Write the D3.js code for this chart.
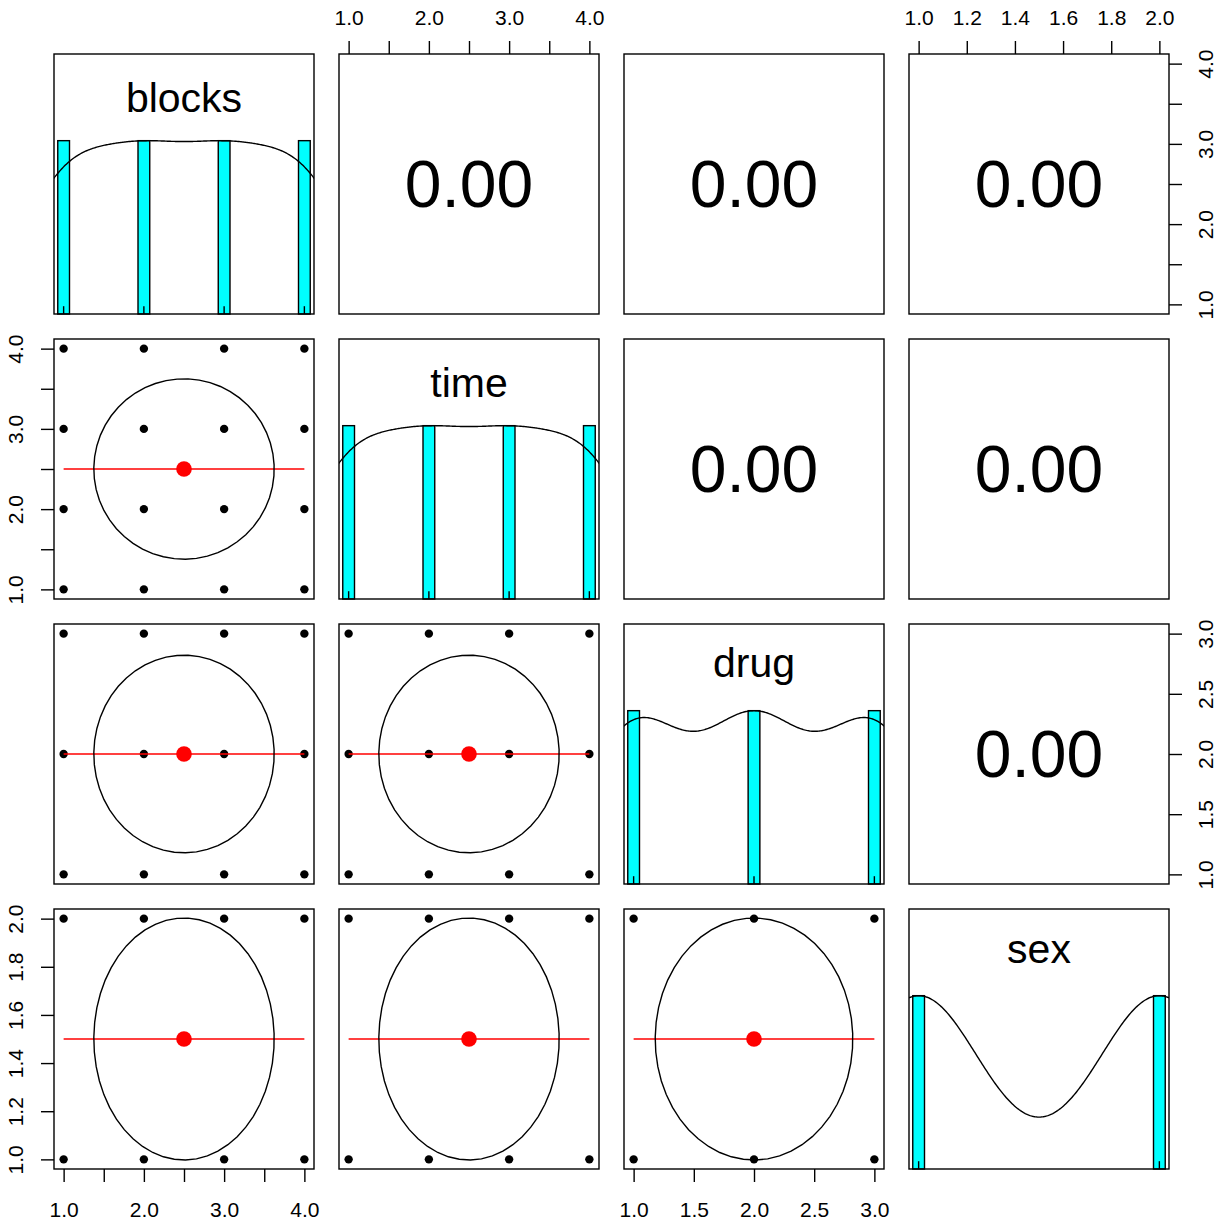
<!DOCTYPE html>
<html><head><meta charset="utf-8">
<script src="https://cdn.jsdelivr.net/npm/d3@7"></script>
<style>html,body{margin:0;padding:0;background:#fff}</style>
</head><body>
<svg id="chart" width="1223" height="1223" xmlns="http://www.w3.org/2000/svg"></svg>
<script>
// ---------------- data ----------------
const variableNames = ["blocks", "time", "drug", "sex"];
const blocksLevels = [1, 2, 3, 4];
const blocksCounts = [24, 24, 24, 24];
const timeLevels = [1, 2, 3, 4];
const timeCounts = [24, 24, 24, 24];
const drugLevels = [1, 2, 3];
const drugCounts = [32, 32, 32];
const sexLevels = [1, 2];
const sexCounts = [48, 48];
// upper triangle, row-major: (blocks,time) (blocks,drug) (blocks,sex) (time,drug) (time,sex) (drug,sex)
const correlations = [0.00, 0.00, 0.00, 0.00, 0.00, 0.00];
const blocksTicks = [1, 1.5, 2, 2.5, 3, 3.5, 4];
const blocksTickLabels = ["1.0", "", "2.0", "", "3.0", "", "4.0"];
const timeTicks = [1, 1.5, 2, 2.5, 3, 3.5, 4];
const timeTickLabels = ["1.0", "", "2.0", "", "3.0", "", "4.0"];
const drugTicks = [1, 1.5, 2, 2.5, 3];
const drugTickLabels = ["1.0", "1.5", "2.0", "2.5", "3.0"];
const sexTicks = [1, 1.2, 1.4, 1.6, 1.8, 2];
const sexTickLabels = ["1.0", "1.2", "1.4", "1.6", "1.8", "2.0"];

// ---------------- layout ----------------
const P0 = 54, PS = 260, STEP = 285;
const FONT = "'Liberation Sans', Arial, Helvetica, sans-serif";
const LW = 1.4;

const levelArrays = [blocksLevels, timeLevels, drugLevels, sexLevels];
const countArrays = [blocksCounts, timeCounts, drugCounts, sexCounts];
const tickArrays = [blocksTicks, timeTicks, drugTicks, sexTicks];
const tickLabelArrays = [blocksTickLabels, timeTickLabels, drugTickLabels, sexTickLabels];

const vars = variableNames.map((name, k) => {
  const levels = levelArrays[k], counts = countArrays[k];
  const values = [];
  levels.forEach((l, m) => { for (let c = 0; c < counts[m]; c++) values.push(l); });
  const n = values.length;
  const mean = d3.mean(values);
  const sd = d3.deviation(values);
  const q1 = d3.quantile(values, 0.25), q3 = d3.quantile(values, 0.75);
  const bw = 1.06 * Math.min(sd, (q3 - q1) / 1.34) * Math.pow(n, -0.2) * 1.2;
  const [mn, mx] = d3.extent(values);
  const r = mx - mn;
  return {name, levels, counts, values, n, mean, sd, bw, min: mn, max: mx,
    domain: [mn - 0.04 * r, mx + 0.04 * r], ticks: tickArrays[k], tickLabels: tickLabelArrays[k]};
});

function corrIndex(i, j) { // i<j
  const nV = vars.length; let idx = 0;
  for (let a = 0; a < nV; a++) for (let b = a + 1; b < nV; b++) { if (a === i && b === j) return idx; idx++; }
  return -1;
}

const svg = d3.select("#chart");
svg.append("rect").attr("width", 1223).attr("height", 1223).attr("fill", "#fff");
const defs = svg.append("defs");
const nV = vars.length;

for (let i = 0; i < nV; i++) {
  for (let j = 0; j < nV; j++) {
    const left = P0 + j * STEP, top = P0 + i * STEP;
    const g = svg.append("g").attr("transform", `translate(${left},${top})`);
    const vx = vars[j], vy = vars[i];
    const x = d3.scaleLinear().domain(vx.domain).range([0, PS]);
    const y = d3.scaleLinear().domain(vy.domain).range([PS, 0]);
    const clipId = `clip-${i}-${j}`;
    defs.append("clipPath").attr("id", clipId).append("rect").attr("width", PS).attr("height", PS);

    if (i === j) {
      const yh = d3.scaleLinear().domain([0, 1.5]).range([PS, 0]);
      const maxC = d3.max(vx.counts);
      const diffs = d3.pairs(vx.levels).map(([a, b]) => b - a);
      const ib = d3.min(diffs) * (vx.levels.length - 1) / 41;
      g.selectAll("rect.bar").data(vx.levels.map((l, m) => ({l, c: vx.counts[m]})))
        .join("rect").attr("class", "bar")
        .attr("x", d => x(d.l - ib)).attr("width", d => x(d.l + ib) - x(d.l - ib))
        .attr("y", d => yh(d.c / maxC)).attr("height", d => PS - yh(d.c / maxC))
        .attr("fill", "#00FFFF").attr("stroke", "#000").attr("stroke-width", LW);
      // density (gaussian kde, bw.nrd * 1.2)
      const lo = vx.min - 3 * vx.bw, hi = vx.max + 3 * vx.bw;
      const grid = d3.range(512).map(k => lo + (hi - lo) * k / 511);
      const kde = grid.map(t => {
        let s = 0;
        vx.levels.forEach((l, m) => { const z = (t - l) / vx.bw; s += vx.counts[m] * Math.exp(-0.5 * z * z); });
        return [t, s];
      });
      const dmax = d3.max(kde, d => d[1]);
      g.append("path").attr("clip-path", `url(#${clipId})`)
        .attr("d", d3.line().x(d => x(d[0])).y(d => yh(d[1] / dmax))(kde))
        .attr("fill", "none").attr("stroke", "#000").attr("stroke-width", LW);
      // rug
      g.selectAll("line.rug").data(vx.levels).join("line").attr("class", "rug")
        .attr("x1", d => x(d)).attr("x2", d => x(d)).attr("y1", PS).attr("y2", PS - 0.03 * PS)
        .attr("stroke", "#000").attr("stroke-width", LW);
      // label
      const fs = 41;
      const asc = /[bdfhklti0-9A-Z]/.test(vx.name) ? 0.716 * fs : 0.519 * fs;
      const desc = /[gjpqy]/.test(vx.name) ? 0.21 * fs : 0;
      g.append("text").attr("x", PS / 2).attr("y", 43 + (asc - desc) / 2)
        .attr("text-anchor", "middle").attr("font-family", FONT).attr("font-size", fs)
        .attr("fill", "#000").text(vx.name);
    } else if (i > j) {
      // scatter points: every observed combination
      const pts = [];
      vx.levels.forEach(a => vy.levels.forEach(b => pts.push([a, b])));
      g.selectAll("circle.pt").data(pts).join("circle").attr("class", "pt")
        .attr("cx", d => x(d[0])).attr("cy", d => y(d[1])).attr("r", 4.2).attr("fill", "#000");
      const r = correlations[corrIndex(j, i)];
      // smoother / fit (slope from correlation)
      const slope = r * vy.sd / vx.sd;
      const fit = t => vy.mean + slope * (t - vx.mean);
      g.append("line").attr("x1", x(vx.min)).attr("x2", x(vx.max))
        .attr("y1", y(fit(vx.min))).attr("y2", y(fit(vx.max)))
        .attr("stroke", "#FF0000").attr("stroke-width", LW);
      // correlation ellipse
      const seg = 51;
      const theta = (Math.abs(r) > 0 ? Math.sign(r) : 1) / Math.SQRT2;
      const a1 = Math.sqrt(1 + r), a2 = Math.sqrt(1 - r);
      const ell = d3.range(seg + 1).map(k => {
        const ang = k * 2 * Math.PI / seg;
        const c = Math.cos(ang) * a1, s = Math.sin(ang) * a2;
        const ex = c * theta + s * (-theta);
        const ey = c * theta + s * theta;
        return [ex * vx.sd + vx.mean, ey * vy.sd + vy.mean];
      });
      g.append("path").attr("d", d3.line().x(d => x(d[0])).y(d => y(d[1]))(ell))
        .attr("fill", "none").attr("stroke", "#000").attr("stroke-width", LW);
      g.append("circle").attr("cx", x(vx.mean)).attr("cy", y(vy.mean)).attr("r", 7.8).attr("fill", "#FF0000");
    } else {
      const r = correlations[corrIndex(i, j)];
      const fs = 66;
      g.append("text").attr("x", PS / 2).attr("y", PS / 2 + 0.7 * fs / 2)
        .attr("text-anchor", "middle").attr("font-family", FONT).attr("font-size", fs)
        .attr("fill", "#000").text(d3.format(".2f")(Math.abs(r) < 0.005 ? 0 : r));
    }
    g.append("rect").attr("width", PS).attr("height", PS).attr("fill", "none")
      .attr("stroke", "#000").attr("stroke-width", LW);

    // axes
    const last = nV - 1;
    const styleAxis = ax => {
      ax.select(".domain").remove();
      ax.attr("font-family", FONT).attr("font-size", 21);
      ax.selectAll(".tick line").attr("stroke", "#000").attr("stroke-width", LW);
      ax.selectAll(".tick text").attr("fill", "#000");
    };
    if (i === 0 && j % 2 === 1) {
      const ax = svg.append("g").attr("transform", `translate(${left},${P0})`)
        .call(d3.axisTop(x).tickValues(vx.ticks).tickFormat((d, k) => vx.tickLabels[k]).tickSize(13).tickPadding(16));
      styleAxis(ax);
    }
    if (i === last && j % 2 === 0) {
      const ax = svg.append("g").attr("transform", `translate(${left},${P0 + last * STEP + PS})`)
        .call(d3.axisBottom(x).tickValues(vx.ticks).tickFormat((d, k) => vx.tickLabels[k]).tickSize(13));
      styleAxis(ax);
      ax.selectAll(".tick text").attr("y", 48).attr("dy", null);
    }
    if (j === 0 && i % 2 === 1) {
      const ax = svg.append("g").attr("transform", `translate(${P0},${top})`)
        .call(d3.axisLeft(y).tickValues(vy.ticks).tickFormat((d, k) => vy.tickLabels[k]).tickSize(13));
      styleAxis(ax);
      ax.selectAll(".tick text").attr("transform", "rotate(-90)").attr("x", 0).attr("y", -31)
        .attr("dy", null).attr("text-anchor", "middle");
    }
    if (j === last && i % 2 === 0) {
      const ax = svg.append("g").attr("transform", `translate(${P0 + last * STEP + PS},${top})`)
        .call(d3.axisRight(y).tickValues(vy.ticks).tickFormat((d, k) => vy.tickLabels[k]).tickSize(13));
      styleAxis(ax);
      ax.selectAll(".tick text").attr("transform", "rotate(-90)").attr("x", 0).attr("y", 44)
        .attr("dy", null).attr("text-anchor", "middle");
    }
  }
}
</script>
</body></html>
